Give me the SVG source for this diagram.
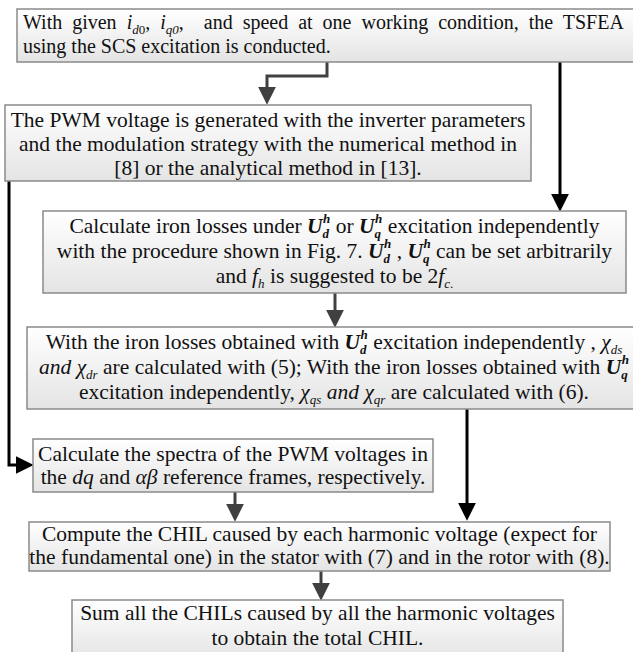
<svg xmlns="http://www.w3.org/2000/svg" width="633" height="652" viewBox="0 0 633 652">
<defs>
<linearGradient id="bg" x1="0" y1="0" x2="0" y2="1">
<stop offset="0" stop-color="#ffffff"/>
<stop offset="1" stop-color="#e4e4e4"/>
</linearGradient>
<marker id="ag" markerUnits="userSpaceOnUse" markerWidth="18" markerHeight="18" refX="5" refY="8.5" orient="auto" viewBox="0 0 17 17">
<path d="M0,0 L17,8.5 L0,17 z" fill="#404040"/>
</marker>
<marker id="ab" markerUnits="userSpaceOnUse" markerWidth="18" markerHeight="18" refX="5" refY="8.5" orient="auto" viewBox="0 0 17 17">
<path d="M0,0 L17,8.5 L0,17 z" fill="#000"/>
</marker>
</defs>
<style>
.box{fill:url(#bg);stroke:#8a8a8a;stroke-width:1.5}
text{font-family:"Liberation Serif","Times New Roman",serif;font-size:21.5px;fill:#111}
.t1{font-size:20px}
.c{text-anchor:middle}
.i{font-style:italic}
.bi{font-style:italic;font-weight:bold}
.sub{font-size:13px;baseline-shift:-5px}
.sup{font-size:13px;baseline-shift:10px}
.g{fill:none;stroke:#404040;stroke-width:3}
.k{fill:none;stroke:#000;stroke-width:3}
</style>
<rect width="633" height="652" fill="#fff"/>
<g id="connectors">
<path class="g" d="M327,62 V76 H267 V92" marker-end="url(#ag)"/>
<path class="k" d="M560,62 V199" marker-end="url(#ab)"/>
<path class="k" d="M9,181 V465 H21" marker-end="url(#ab)"/>
<path class="g" d="M335,293 V315" marker-end="url(#ag)"/>
<path class="k" d="M467,409 V508" marker-end="url(#ab)"/>
<path class="g" d="M235,492 V509" marker-end="url(#ag)"/>
<path class="g" d="M321,571 V588" marker-end="url(#ag)"/>
</g>
<g id="n1">
<rect class="box" x="17" y="9" width="630" height="53"/>
<text class="t1" x="23" y="29" word-spacing="5">With given <tspan class="i">i</tspan><tspan class="sub i">d</tspan><tspan class="sub">0</tspan>, <tspan class="i">i</tspan><tspan class="sub i">q0</tspan>,&#160; and speed at one working condition, the TSFEA</text>
<text class="t1" x="23" y="53">using the SCS excitation is conducted.</text>
</g>
<g id="n2">
<rect class="box" x="5" y="105" width="526" height="76"/>
<text class="c" x="268" y="127">The PWM voltage is generated with the inverter parameters</text>
<text class="c" x="268" y="151">and the modulation strategy with the numerical method in</text>
<text class="c" x="268" y="175">[8] or the analytical method in [13].</text>
</g>
<g id="n3">
<rect class="box" x="43" y="211" width="583" height="82"/>
<text class="c" x="334.5" y="233">Calculate iron losses under <tspan class="bi">U</tspan><tspan class="sub bi">d</tspan><tspan class="sup bi" dx="-6">h</tspan> or <tspan class="bi">U</tspan><tspan class="sub bi">q</tspan><tspan class="sup bi" dx="-6">h</tspan> excitation independently</text>
<text class="c" x="334.5" y="258">with the procedure shown in Fig. 7. <tspan class="bi">U</tspan><tspan class="sub bi">d</tspan><tspan class="sup bi" dx="-6">h</tspan> , <tspan class="bi">U</tspan><tspan class="sub bi">q</tspan><tspan class="sup bi" dx="-6">h</tspan> can be set arbitrarily</text>
<text class="c" x="334.5" y="283">and <tspan class="i">f</tspan><tspan class="sub i">h</tspan> is suggested to be 2<tspan class="i">f</tspan><tspan class="sub i">c</tspan><tspan class="sub">.</tspan></text>
</g>
<g id="n4">
<rect class="box" x="27" y="327" width="614" height="82"/>
<text class="c" x="334" y="349">With the iron losses obtained with <tspan class="bi">U</tspan><tspan class="sub bi">d</tspan><tspan class="sup bi" dx="-6">h</tspan> excitation independently , <tspan class="i">χ</tspan><tspan class="sub i">ds</tspan></text>
<text class="c" x="334" y="374"><tspan class="i">and χ</tspan><tspan class="sub i">dr</tspan> are calculated with (5); With the iron losses obtained with <tspan class="bi">U</tspan><tspan class="sub bi">q</tspan><tspan class="sup bi" dx="-6">h</tspan></text>
<text class="c" x="334" y="399">excitation independently, <tspan class="i">χ</tspan><tspan class="sub i">qs</tspan> <tspan class="i">and χ</tspan><tspan class="sub i">qr</tspan> are calculated with (6).</text>
</g>
<g id="n5">
<rect class="box" x="33" y="439" width="400" height="53"/>
<text class="c" x="233" y="461">Calculate the spectra of the PWM voltages in</text>
<text class="c" x="233" y="484">the <tspan class="i">dq</tspan> and <tspan class="i">αβ</tspan> reference frames, respectively.</text>
</g>
<g id="n6">
<rect class="box" x="29" y="522" width="581" height="49"/>
<text class="c" x="319.5" y="541">Compute the CHIL caused by each harmonic voltage (expect for</text>
<text class="c" x="319.5" y="564">the fundamental one) in the stator with (7) and in the rotor with (8).</text>
</g>
<g id="n7">
<rect class="box" x="72" y="600" width="491" height="60"/>
<text class="c" x="317.5" y="620">Sum all the CHILs caused by all the harmonic voltages</text>
<text class="c" x="317.5" y="645">to obtain the total CHIL.</text>
</g>
</svg>
